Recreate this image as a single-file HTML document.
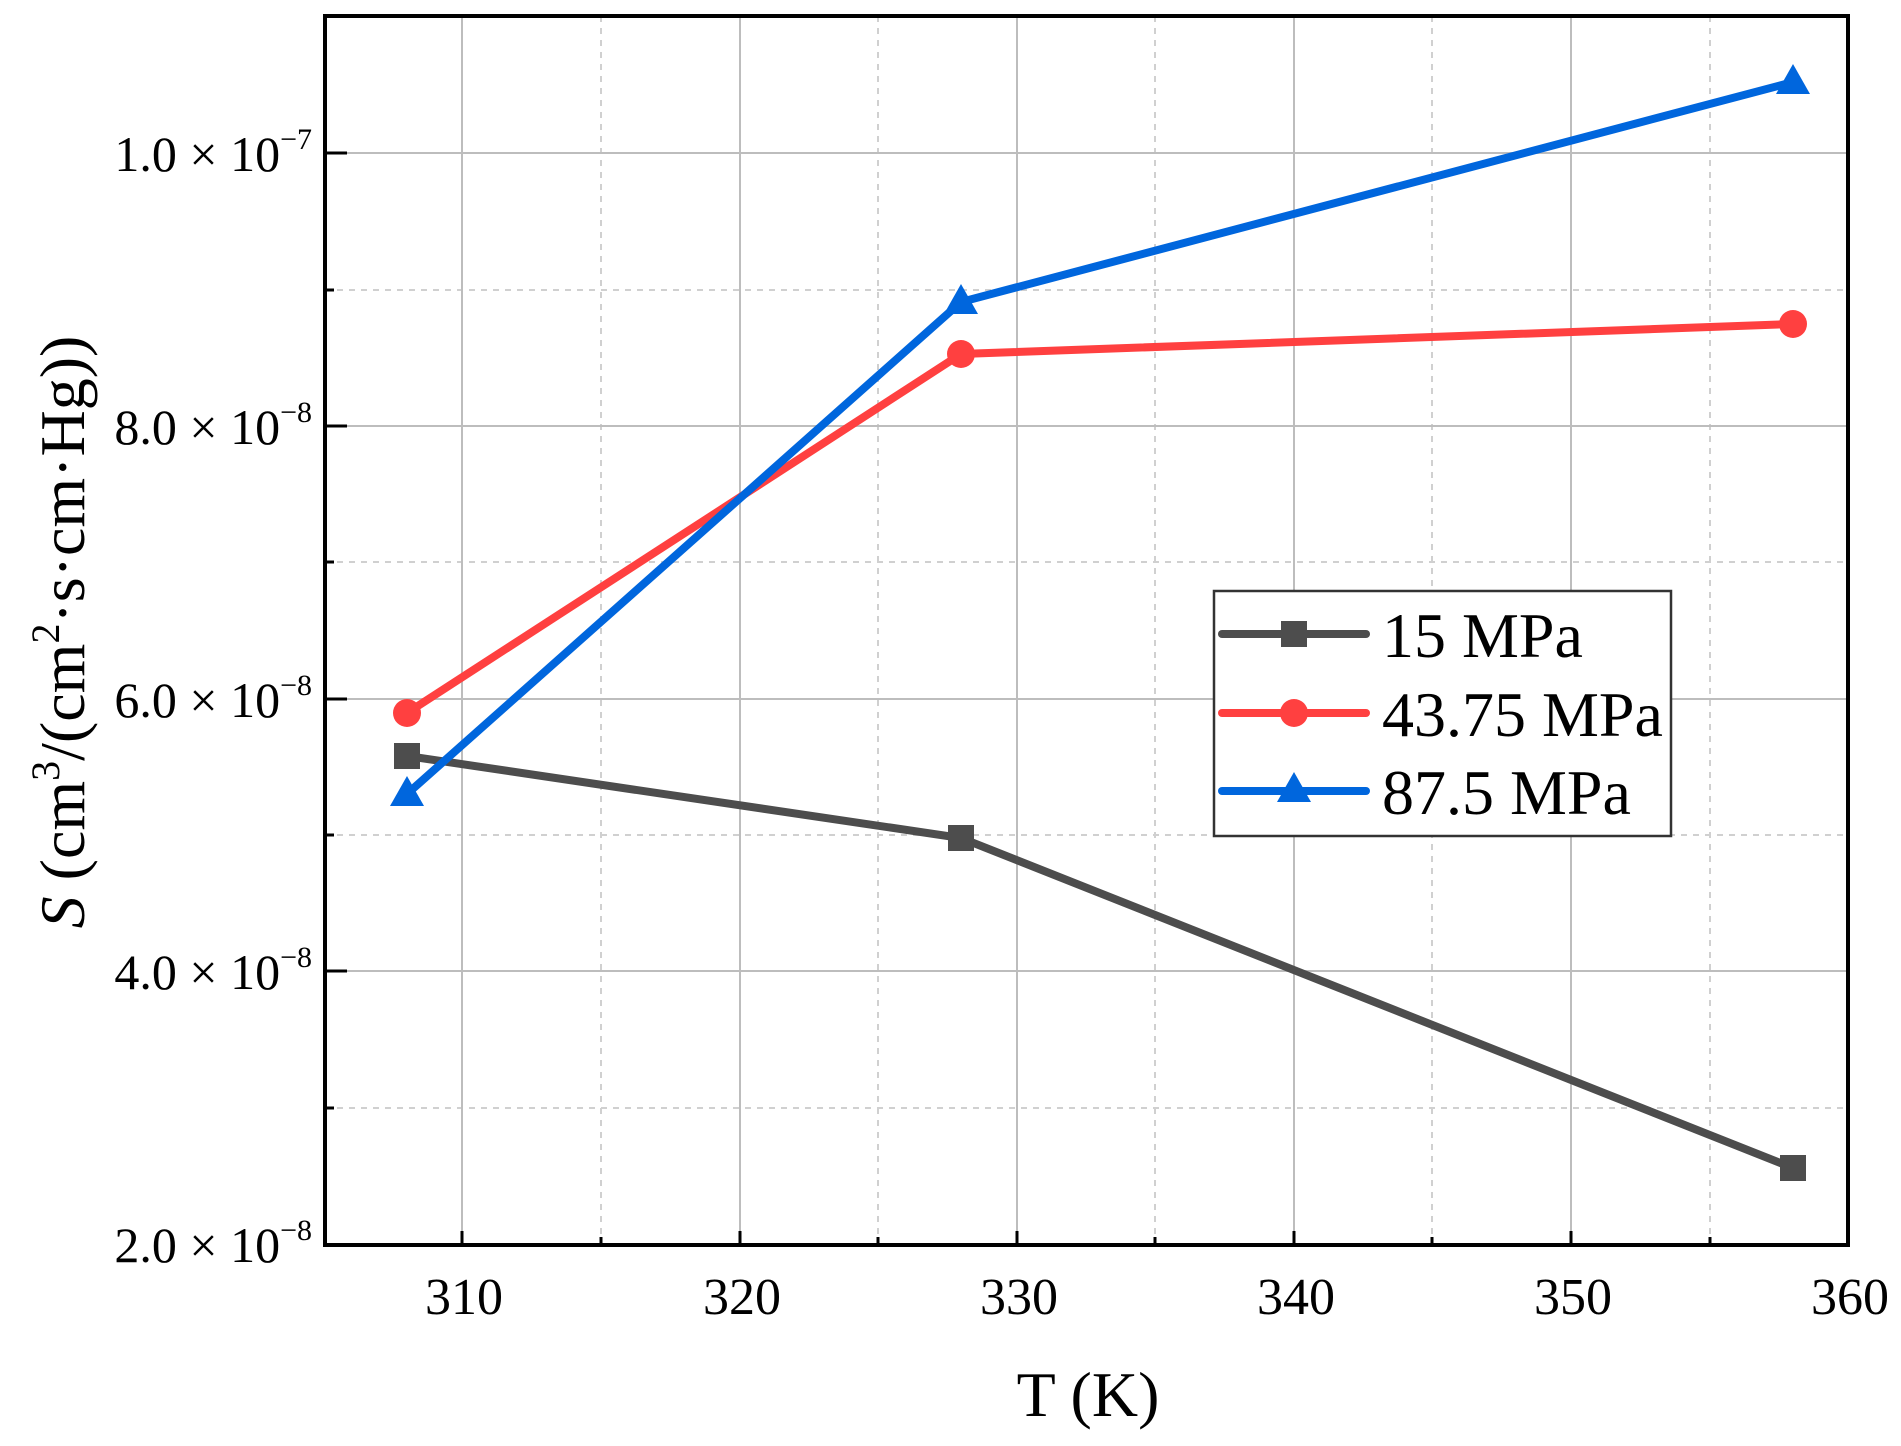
<!DOCTYPE html>
<html><head><meta charset="utf-8"><style>
html,body{margin:0;padding:0;background:#fff;}
svg{display:block;font-family:"Liberation Serif",serif;}
</style></head><body>
<svg width="1901" height="1446" viewBox="0 0 1901 1446" xmlns="http://www.w3.org/2000/svg">
<rect width="1901" height="1446" fill="#fff"/>
<g stroke="#d0d0d0" stroke-width="2" stroke-dasharray="6,6">
<line x1="601" y1="16" x2="601" y2="1245"/>
<line x1="878" y1="16" x2="878" y2="1245"/>
<line x1="1155" y1="16" x2="1155" y2="1245"/>
<line x1="1432" y1="16" x2="1432" y2="1245"/>
<line x1="1710" y1="16" x2="1710" y2="1245"/>
<line x1="325" y1="1108" x2="1848" y2="1108"/>
<line x1="325" y1="835" x2="1848" y2="835"/>
<line x1="325" y1="562" x2="1848" y2="562"/>
<line x1="325" y1="290" x2="1848" y2="290"/>
</g>
<g stroke="#bdbdbd" stroke-width="2">
<line x1="462" y1="16" x2="462" y2="1245"/>
<line x1="740" y1="16" x2="740" y2="1245"/>
<line x1="1017" y1="16" x2="1017" y2="1245"/>
<line x1="1294" y1="16" x2="1294" y2="1245"/>
<line x1="1571" y1="16" x2="1571" y2="1245"/>
<line x1="325" y1="971" x2="1848" y2="971"/>
<line x1="325" y1="699" x2="1848" y2="699"/>
<line x1="325" y1="426" x2="1848" y2="426"/>
<line x1="325" y1="153" x2="1848" y2="153"/>
</g>
<g stroke="#000" stroke-width="3">
<line x1="462" y1="1245" x2="462" y2="1231"/>
<line x1="740" y1="1245" x2="740" y2="1231"/>
<line x1="1017" y1="1245" x2="1017" y2="1231"/>
<line x1="1294" y1="1245" x2="1294" y2="1231"/>
<line x1="1571" y1="1245" x2="1571" y2="1231"/>
<line x1="601" y1="1245" x2="601" y2="1237"/>
<line x1="878" y1="1245" x2="878" y2="1237"/>
<line x1="1155" y1="1245" x2="1155" y2="1237"/>
<line x1="1432" y1="1245" x2="1432" y2="1237"/>
<line x1="1710" y1="1245" x2="1710" y2="1237"/>
<line x1="325" y1="971" x2="347" y2="971"/>
<line x1="325" y1="699" x2="347" y2="699"/>
<line x1="325" y1="426" x2="347" y2="426"/>
<line x1="325" y1="153" x2="347" y2="153"/>
<line x1="325" y1="1108" x2="334" y2="1108"/>
<line x1="325" y1="835" x2="334" y2="835"/>
<line x1="325" y1="562" x2="334" y2="562"/>
<line x1="325" y1="290" x2="334" y2="290"/>
</g>
<rect x="325" y="16" width="1523" height="1229" fill="none" stroke="#000" stroke-width="4"/>
<polyline points="407,756 961,838 1793,1168" fill="none" stroke="#4d4d4d" stroke-width="8"/>
<polyline points="407,713 961,354 1793,324" fill="none" stroke="#ff4040" stroke-width="8"/>
<polyline points="407,794 961,302 1793,82" fill="none" stroke="#0066dd" stroke-width="8"/>
<g fill="#4d4d4d">
<rect x="394" y="743" width="26" height="26"/>
<rect x="948" y="825" width="26" height="26"/>
<rect x="1780" y="1155" width="26" height="26"/>
</g>
<g fill="#ff4040">
<circle cx="407" cy="713" r="14"/>
<circle cx="961" cy="354" r="14"/>
<circle cx="1793" cy="324" r="14"/>
</g>
<g fill="#0066dd">
<polygon points="407,776 424,806 390,806"/>
<polygon points="961,284 978,314 944,314"/>
<polygon points="1793,64 1810,94 1776,94"/>
</g>
<rect x="1214" y="591" width="457" height="245" fill="#fff" stroke="#333" stroke-width="2.5"/>
<line x1="1222" y1="634" x2="1366" y2="634" stroke="#4d4d4d" stroke-width="8" stroke-linecap="round"/>
<rect x="1281" y="621" width="26" height="26" fill="#4d4d4d"/>
<line x1="1222" y1="713" x2="1366" y2="713" stroke="#ff4040" stroke-width="8" stroke-linecap="round"/>
<circle cx="1294" cy="713" r="14" fill="#ff4040"/>
<line x1="1222" y1="791" x2="1366" y2="791" stroke="#0066dd" stroke-width="8" stroke-linecap="round"/>
<polygon points="1294,772 1311,802 1277,802" fill="#0066dd"/>
<g font-size="64" fill="#000">
<text x="1382" y="657">15 MPa</text>
<text x="1382" y="736">43.75 MPa</text>
<text x="1382" y="814">87.5 MPa</text>
</g>
<g font-size="52" text-anchor="middle" fill="#000">
<text x="464" y="1314">310</text>
<text x="742" y="1314">320</text>
<text x="1019" y="1314">330</text>
<text x="1296" y="1314">340</text>
<text x="1573" y="1314">350</text>
<text x="1850" y="1314">360</text>
</g>
<g font-size="50" text-anchor="end" fill="#000">
<text x="312" y="1262">2.0 × 10<tspan font-size="30" dy="-22">−8</tspan></text>
<text x="312" y="989">4.0 × 10<tspan font-size="30" dy="-22">−8</tspan></text>
<text x="312" y="717">6.0 × 10<tspan font-size="30" dy="-22">−8</tspan></text>
<text x="312" y="444">8.0 × 10<tspan font-size="30" dy="-22">−8</tspan></text>
<text x="312" y="171">1.0 × 10<tspan font-size="30" dy="-22">−7</tspan></text>
</g>
<text x="1088" y="1416" font-size="64" text-anchor="middle">T (K)</text>
<text transform="translate(84,632) rotate(-90)" font-size="64" text-anchor="middle"><tspan font-style="italic">S</tspan> (cm<tspan font-size="40" dy="-25">3</tspan><tspan dy="25">/(cm</tspan><tspan font-size="40" dy="-25">2</tspan><tspan dy="25">·s·cm·Hg))</tspan></text>
</svg>
</body></html>
